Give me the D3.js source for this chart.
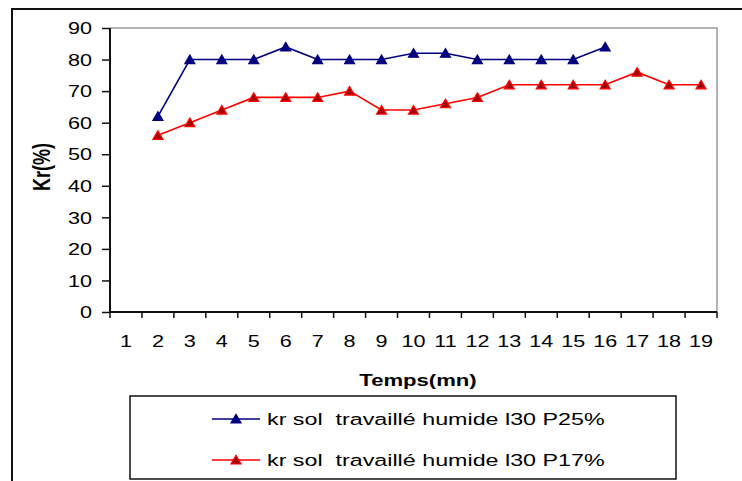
<!DOCTYPE html>
<html><head><meta charset="utf-8">
<script src="https://cdn.jsdelivr.net/npm/d3@7"></script>
<style>body{margin:0;background:#fff}svg{display:block}text{font-family:"Liberation Sans",Arial,sans-serif}</style>
</head><body>
<svg id="c" width="742" height="481"></svg>
<script>
const categories = ["1","2","3","4","5","6","7","8","9","10","11","12","13","14","15","16","17","18","19"];
const seriesNames = ["kr sol  travaillé humide l30 P25%", "kr sol  travaillé humide l30 P17%"];
const valuesP25 = [null, 62, 80, 80, 80, 84, 80, 80, 80, 82, 82, 80, 80, 80, 80, 84, null, null, null];
const valuesP17 = [null, 56, 60, 64, 68, 68, 68, 70, 64, 64, 66, 68, 72, 72, 72, 72, 76, 72, 72];
const yTickValues = [0, 10, 20, 30, 40, 50, 60, 70, 80, 90];
const xTitle = "Temps(mn)";
const yTitle = "Kr(%)";
const seriesColors = [{line:"#000080", fill:"#000080", stroke:"#000080"}, {line:"#ff0000", fill:"#a80000", stroke:"#ff0000"}];

const svg = d3.select("#c");
svg.append("rect").attr("width",742).attr("height",481).attr("fill","#fff");
svg.append("path").attr("d","M12,483 L12,9 L744,9").attr("fill","none").attr("stroke","#111").attr("stroke-width",2);

const plot = {l:110, t:28, r:717, b:312};
const SX = 1.35;
const x = d3.scaleBand().domain(categories).range([plot.l, plot.r]);
const bw = x.bandwidth();
const y = d3.scaleLinear().domain([0, 90]).range([plot.b, plot.t]);

svg.append("path").attr("d",`M${plot.l},${plot.t}H${plot.r}V${plot.b}`).attr("stroke","#9a9a9a").attr("fill","none").attr("stroke-width",1.5);

// y axis
const yAxis = svg.append("g").attr("transform",`translate(${plot.l},0)`)
  .call(d3.axisLeft(y).tickValues(yTickValues).tickSize(8).tickPadding(0));
yAxis.select(".domain").remove();
yAxis.selectAll(".tick line").attr("stroke","#111").attr("stroke-width",1.5);
yAxis.selectAll(".tick text").attr("x",0).attr("y",0).attr("dy","0.36em")
  .attr("font-size",16).attr("fill","#000").attr("text-anchor","end")
  .attr("font-family",null)
  .attr("transform",`translate(-18,0) scale(${SX},1)`);

// x axis ticks at category boundaries
const bounds = categories.map(c => x(c)).concat([x.range()[1]]);
svg.append("g").selectAll("line").data(bounds).join("line")
  .attr("x1",d=>d).attr("x2",d=>d).attr("y1",plot.b).attr("y2",plot.b+6)
  .attr("stroke","#111").attr("stroke-width",1.5);
svg.append("g").selectAll("text").data(categories).join("text")
  .attr("transform",d=>`translate(${x(d)+bw/2},347) scale(${SX},1)`)
  .attr("text-anchor","middle").attr("font-size",16).attr("fill","#000").text(d=>d);

// axis lines
svg.append("line").attr("x1",plot.l).attr("x2",plot.l).attr("y1",plot.t).attr("y2",plot.b).attr("stroke","#111").attr("stroke-width",2);
svg.append("line").attr("x1",plot.l-1).attr("x2",plot.r).attr("y1",plot.b).attr("y2",plot.b).attr("stroke","#111").attr("stroke-width",2);

// titles
svg.append("text").attr("transform",`translate(418,386) scale(1.3,1)`).attr("text-anchor","middle")
  .attr("font-size",17).attr("font-weight","bold").attr("fill","#000").text(xTitle);
svg.append("text").attr("transform",`translate(50,167) scale(1.3,1) rotate(-90)`).attr("text-anchor","middle")
  .attr("font-size",18).attr("font-weight","bold").attr("fill","#000").text(yTitle);

// series
const tri = "M0,-4.6L5,4L-5,4Z";
const allSeries = [valuesP25, valuesP17];
const line = d3.line().defined(d => d.v != null).x(d => x(d.c) + bw/2).y(d => y(d.v));
allSeries.forEach((vals, si) => {
  const pts = vals.map((v,i) => ({c:categories[i], v}));
  svg.append("path").datum(pts).attr("d", line).attr("fill","none")
    .attr("stroke", seriesColors[si].line).attr("stroke-width",1.6);
  svg.append("g").selectAll("path").data(pts.filter(d=>d.v!=null)).join("path")
    .attr("d", tri).attr("transform", d=>`translate(${x(d.c)+bw/2},${y(d.v)})`)
    .attr("fill", seriesColors[si].fill).attr("stroke", seriesColors[si].stroke).attr("stroke-width",1.2);
});

// legend
svg.append("rect").attr("x",130).attr("y",396).attr("width",546).attr("height",83)
  .attr("fill","#fff").attr("stroke","#111").attr("stroke-width",1.5);
const legY = [419, 460];
seriesNames.forEach((name, si) => {
  const g = svg.append("g");
  g.append("line").attr("x1",212).attr("x2",260).attr("y1",legY[si]).attr("y2",legY[si])
    .attr("stroke", seriesColors[si].line).attr("stroke-width",1.6);
  g.append("path").attr("d", tri).attr("transform",`translate(236,${legY[si]})`)
    .attr("fill", seriesColors[si].fill).attr("stroke", seriesColors[si].stroke).attr("stroke-width",1.2);
  g.append("text").attr("transform",`translate(267,${legY[si]+6}) scale(1.37,1)`)
    .attr("font-size",17).attr("fill","#000").style("white-space","pre").text(name);
});
</script>
</body></html>
